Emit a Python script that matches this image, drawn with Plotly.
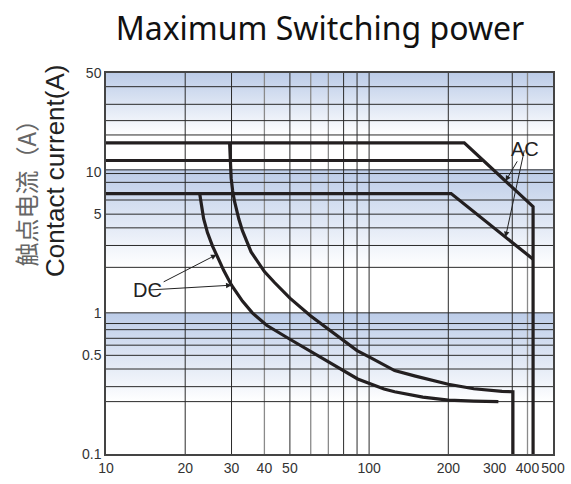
import numpy as np
import plotly.graph_objects as go

# ---------------- data ----------------
x_tick_vals = [10, 20, 30, 40, 50, 100, 200, 300, 400, 500]
x_tick_text = ["10", "20", "30", "40", "50", "100", "200", "300", "400", "500"]
y_tick_vals = [0.1, 0.5, 1, 5, 10, 50]
y_tick_text = ["0.1", "0.5", "1", "5", "10", "50"]

x_grid_dark = [20, 30, 50, 80, 90, 100, 200, 350]
x_grid_gray = [40, 60, 70, 400]
y_grid = [40, 30, 23, 18.2, 10.3, 9.7, 8.4, 6.3, 5, 4, 3, 2.1, 1,
          0.84, 0.76, 0.66, 0.59, 0.5, 0.4, 0.3, 0.235]

band_tops = [50, 10.4, 1.0]
band_bottoms = [18.2, 2.1, 0.235]

# AC limits
ac_hi_x = [10, 230, 420, 420]
ac_hi_y = [16, 16, 5.65, 0.1]
ac_mid_x = [10, 270]
ac_mid_y = [12, 12]
ac_lo_x = [10, 205, 420]
ac_lo_y = [7, 7, 2.4]

# DC limits
dc_hi_x = [29.5, 29.7, 29.9, 30.3, 30.8, 32, 33, 35.6, 40, 43.7, 50, 60, 70, 80, 90,
           100, 114, 125, 150, 200, 250, 280, 320, 352, 352]
dc_hi_y = [16, 12, 9.0, 7.3, 6.15, 4.6, 3.82, 2.7, 1.96, 1.64, 1.27, 0.95, 0.77, 0.64, 0.54,
           0.487, 0.426, 0.39, 0.356, 0.312, 0.29, 0.283, 0.278, 0.276, 0.1]
dc_lo_x = [22.7, 23.0, 23.5, 24.3, 25.4, 26.7, 28, 30, 33, 36, 40.8, 50, 60, 75, 90.5,
           114, 125, 160, 200, 250, 310]
dc_lo_y = [7.0, 5.9, 4.64, 3.7, 2.97, 2.43, 2.0, 1.57, 1.21, 1.0, 0.816, 0.65, 0.534, 0.42, 0.34,
           0.289, 0.276, 0.253, 0.241, 0.237, 0.235]

ac_label_pos = (390, 14.5)
ac_tip_x = [330, 330]
dc_label_pos = (14.4, 1.45)
dc_tip_x = [26.3, 30]

X_MIN, X_MAX = 10, 500
Y_MIN, Y_MAX = 0.1, 50

# ---------------- figure ----------------
fig = go.Figure()

BLUE = "rgb(188,204,232)"
for top, bot in zip(band_tops, band_bottoms):
    fig.add_trace(go.Scatter(
        x=[X_MIN, X_MAX, X_MAX, X_MIN, X_MIN], y=[top, top, bot, bot, top],
        mode="lines", line=dict(width=0), fill="toself",
        fillgradient=dict(type="vertical", colorscale=[[0, "white"], [1, BLUE]]),
        hoverinfo="skip", showlegend=False))

def grid_trace(xs_v, ys_h, color, width):
    gx, gy = [], []
    for v in xs_v:
        gx += [v, v, None]
        gy += [Y_MIN, Y_MAX, None]
    for h in ys_h:
        gx += [X_MIN, X_MAX, None]
        gy += [h, h, None]
    return go.Scatter(x=gx, y=gy, mode="lines", line=dict(color=color, width=width),
                      hoverinfo="skip", showlegend=False)

fig.add_trace(grid_trace(x_grid_gray, [], "#8a8a8a", 1.3))
fig.add_trace(grid_trace(x_grid_dark, y_grid, "#2a2a2a", 1))

CURVE = dict(color="#231f20", width=3.2)
for xs, ys in [(ac_hi_x, ac_hi_y), (ac_mid_x, ac_mid_y), (ac_lo_x, ac_lo_y),
               (dc_hi_x, dc_hi_y), (dc_lo_x, dc_lo_y)]:
    fig.add_trace(go.Scatter(x=xs, y=ys, mode="lines", line=CURVE,
                             hoverinfo="skip", showlegend=False))

def on_curve(xt, xs, ys):
    return 10 ** np.interp(np.log10(xt), np.log10(xs), np.log10(ys))

LBL = dict(family="Liberation Sans, Arial", size=20, color="#222")
ann = []
ac_curves = [(ac_hi_x, ac_hi_y), (ac_lo_x, ac_lo_y)]
for i, (xt, (xs, ys)) in enumerate(zip(ac_tip_x, ac_curves)):
    yt = on_curve(xt, xs, ys)
    ann.append(dict(x=np.log10(xt), y=np.log10(yt), xref="x", yref="y",
                    ax=np.log10(ac_label_pos[0]), ay=np.log10(ac_label_pos[1]),
                    axref="x", ayref="y", text="AC" if i == 0 else "",
                    showarrow=True, arrowhead=2, arrowsize=1.1, arrowwidth=1,
                    arrowcolor="#222", font=LBL))
for i, xt in enumerate(dc_tip_x):
    yt = on_curve(xt, dc_lo_x, dc_lo_y)
    ann.append(dict(x=np.log10(xt), y=np.log10(yt), xref="x", yref="y",
                    ax=np.log10(dc_label_pos[0]), ay=np.log10(dc_label_pos[1]),
                    axref="x", ayref="y", text="DC" if i == 0 else "",
                    showarrow=True, arrowhead=2, arrowsize=1.1, arrowwidth=1,
                    arrowcolor="#222", font=LBL))

ann.append(dict(text="触点电流（A）", xref="paper", yref="paper", x=-0.181, y=0.70,
                textangle=-90, showarrow=False, xanchor="center", yanchor="middle",
                font=dict(family="Noto Sans CJK SC", size=24, color="#666")))
ann.append(dict(text="Contact current(A)", xref="paper", yref="paper", x=-0.114, y=0.743,
                textangle=-90, showarrow=False, xanchor="center", yanchor="middle",
                font=dict(family="Liberation Sans, Arial", size=26, color="#222")))

W, H = 571, 484
tickfont = dict(family="Liberation Sans, Arial", size=14, color="#333")
fig.update_layout(
    width=W, height=H,
    margin=dict(l=106, r=18, t=73, b=30),
    paper_bgcolor="white", plot_bgcolor="white",
    title=dict(text="Maximum Switching power", xref="container", x=320 / W, xanchor="center",
               y=1 - 29 / H, yanchor="middle",
               font=dict(family="Noto Sans", size=32, color="#111")),
    xaxis=dict(type="log", range=[np.log10(X_MIN), np.log10(X_MAX)],
               tickvals=x_tick_vals, ticktext=x_tick_text, showgrid=False, zeroline=False,
               showline=True, linecolor="#444", linewidth=1.5, mirror=True, ticks="",
               tickangle=0, tickfont=tickfont, automargin=False),
    yaxis=dict(type="log", range=[np.log10(Y_MIN), np.log10(Y_MAX)],
               tickvals=y_tick_vals, ticktext=y_tick_text, showgrid=False, zeroline=False,
               showline=True, linecolor="#444", linewidth=1.5, mirror=True, ticks="",
               tickfont=tickfont, automargin=False),
    annotations=ann,
    showlegend=False,
)

fig.write_html("out.html", config={"displayModeBar": False},
               post_script="document.body.style.margin='0px';")
